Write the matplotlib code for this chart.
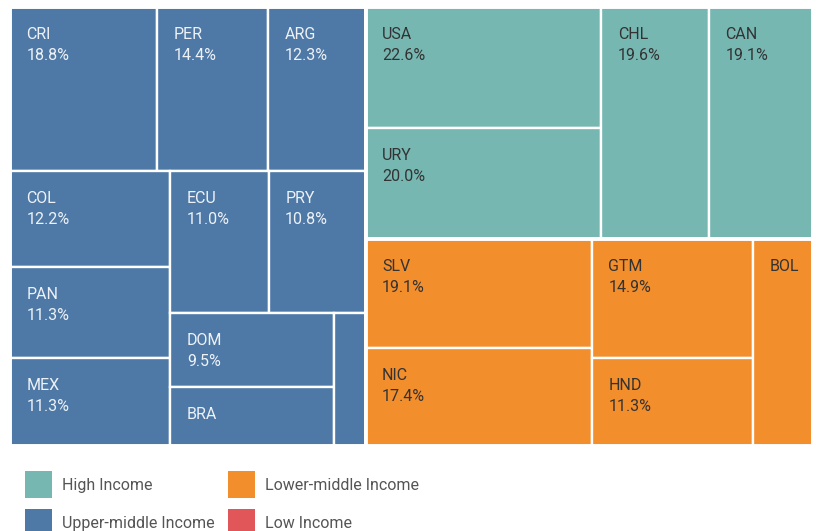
import matplotlib
matplotlib.use("Agg")
import matplotlib.pyplot as plt
from matplotlib.patches import Rectangle

# data (size = relative cell area, pct = label value)
countries = ["CRI", "PER", "ARG", "COL", "PAN", "MEX", "ECU", "PRY", "DOM", "BRA", "",
             "USA", "URY", "CHL", "CAN",
             "SLV", "NIC", "GTM", "HND", "BOL"]
groups = ["Upper-middle Income"] * 11 + ["High Income"] * 4 + ["Lower-middle Income"] * 5
sizes = [239, 181, 158, 154, 144, 141, 139, 137, 120, 96, 42,
         284, 260, 248, 240,
         245, 220, 190, 142, 123]
pcts = [18.8, 14.4, 12.3, 12.2, 11.3, 11.3, 11.0, 10.8, 9.5, None, None,
        22.6, 20.0, 19.6, 19.1,
        19.1, 17.4, 14.9, 11.3, None]

legend_labels = ["High Income", "Upper-middle Income", "Lower-middle Income", "Low Income"]
colors = {"High Income": "#76b7b2", "Upper-middle Income": "#4e79a7",
          "Lower-middle Income": "#f28e2b", "Low Income": "#e15759"}
text_colors = {"High Income": "#333333", "Upper-middle Income": "#eef2f6",
               "Lower-middle Income": "#333333", "Low Income": "#333333"}

plt.rcParams['font.family'] = ['Roboto', 'DejaVu Sans']

PHI = (1 + 5 ** 0.5) / 2


def squarify(values, x0, y0, x1, y1, ratio=PHI):
    """squarified layout (same rules as d3.treemapSquarify), y goes down"""
    rects = []
    value = float(sum(values))
    n = len(values)
    i0 = 0
    while i0 < n:
        dx, dy = x1 - x0, y1 - y0
        i1 = i0
        sum_v = values[i1]
        i1 += 1
        min_v = max_v = sum_v
        alpha = max(dy / dx, dx / dy) / (value * ratio)
        beta = sum_v * sum_v * alpha
        min_ratio = max(max_v / beta, beta / min_v)
        while i1 < n:
            v = values[i1]
            s = sum_v + v
            mn, mx = min(min_v, v), max(max_v, v)
            beta = s * s * alpha
            new_ratio = max(mx / beta, beta / mn)
            if new_ratio > min_ratio:
                break
            sum_v, min_v, max_v, min_ratio = s, mn, mx, new_ratio
            i1 += 1
        row = values[i0:i1]
        if dx < dy:
            h = dy * sum_v / value
            xx = x0
            for v in row:
                w = dx * v / sum_v
                rects.append((xx, y0, w, h))
                xx += w
            y0 += h
        else:
            w = dx * sum_v / value
            yy = y0
            for v in row:
                h = dy * v / sum_v
                rects.append((x0, yy, w, h))
                yy += h
            x0 += w
        value -= sum_v
        i0 = i1
    return rects


fig = plt.figure(figsize=(8.17, 5.31), dpi=100)
ax = fig.add_axes([0, 0, 1, 1])
ax.set_xlim(0, 817)
ax.set_ylim(531, 0)
ax.axis('off')

# groups first, biggest first
group_names = []
for g in groups:
    if g not in group_names:
        group_names.append(g)
group_sums = [sum(s for s, gg in zip(sizes, groups) if gg == g) for g in group_names]
order = sorted(range(len(group_names)), key=lambda i: -group_sums[i])
group_names = [group_names[i] for i in order]
group_sums = [group_sums[i] for i in order]

group_rects = squarify(group_sums, 10, 7, 813, 446)

for g, (gx, gy, gw, gh) in zip(group_names, group_rects):
    idx = [i for i in range(len(countries)) if groups[i] == g]
    idx.sort(key=lambda i: -sizes[i])
    cells = squarify([sizes[i] for i in idx], gx, gy, gx + gw, gy + gh)
    for i, (x, y, w, h) in zip(idx, cells):
        ax.add_patch(Rectangle((x, y), w, h, facecolor=colors[g],
                               edgecolor='white', linewidth=1.7))
        if countries[i] == "":
            continue
        tc = text_colors[g]
        if h > 36 and w > 45:
            ax.text(x + 16.5, y + 32, countries[i], color=tc, fontsize=11.5,
                    ha='left', va='baseline')
        if pcts[i] is not None and h > 60 and w > 68:
            ax.text(x + 16.5, y + 53, "{:.1f}%".format(pcts[i]), color=tc,
                    fontsize=11.5, ha='left', va='baseline')
    ax.add_patch(Rectangle((gx, gy), gw, gh, facecolor='none',
                           edgecolor='white', linewidth=2.8))

# legend, two columns
for k, lab in enumerate(legend_labels):
    col = k // 2
    r = k % 2
    lx = 25 + col * 203
    ly = 471 + r * 38
    ax.add_patch(Rectangle((lx, ly), 26.7, 26.7, facecolor=colors[lab],
                           edgecolor='none'))
    ax.text(lx + 36.7, ly + 19, lab, color='#555555', fontsize=11.5,
            ha='left', va='baseline')

fig.savefig("out.png", dpi=100)
